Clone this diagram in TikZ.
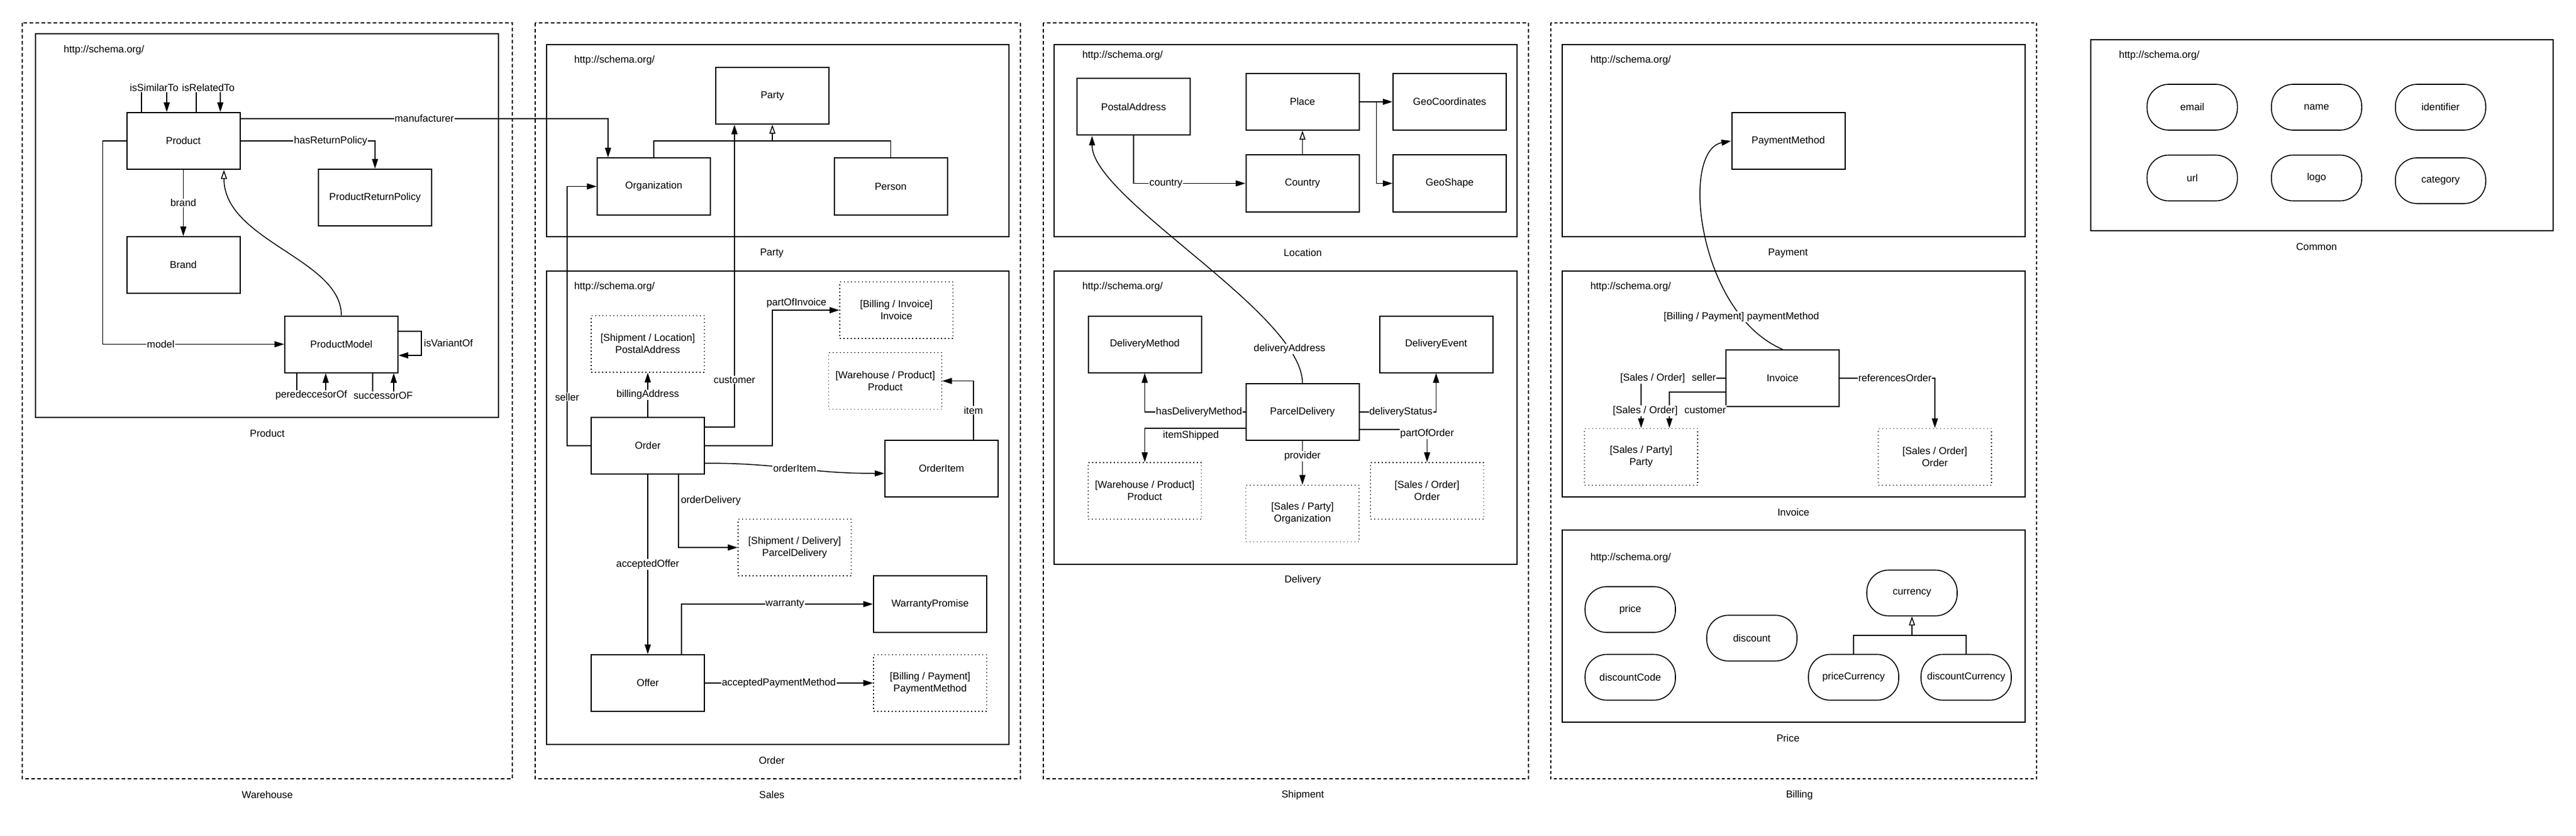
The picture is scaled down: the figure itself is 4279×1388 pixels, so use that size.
\documentclass[tikz,border=0pt]{standalone}
\usepackage{fontspec}
\setmainfont{Liberation Sans}
\usepackage{tikz}
\usetikzlibrary{arrows.meta}

\begin{document}
\begin{tikzpicture}[x=1pt,y=-1pt,line width=1.5pt,
    every node/.style={font=\fontsize{16.7}{20}\selectfont},
    cls/.style={draw,fill=white,line width=2pt,minimum width=188pt,minimum height=94pt},
    ext/.style={draw,fill=white,line width=1.6pt,dash pattern=on 1.5pt off 4.5pt,minimum width=188pt,minimum height=94pt,align=center},
    prop/.style={draw,fill=white,line width=1.6pt,rounded corners=36pt,minimum width=150pt,minimum height=76pt},
    pkg/.style={draw,line width=2pt},
    grp/.style={draw,line width=1.5pt,dash pattern=on 6pt off 4pt},
    uri/.style={anchor=west,inner sep=0pt},
    rel/.style={-{Triangle[length=16pt,width=10pt]}},
    isa/.style={-{Triangle[open,length=15pt,width=10pt]}},
    lbl/.style={fill=white,inner sep=1pt}]
    \useasboundingbox (0,0) rectangle (4279,1388);

    \draw[grp] (37,38) rectangle (851,1293);
    \draw[grp] (889,38) rectangle (1695,1293);
    \draw[grp] (1733,38) rectangle (2539,1293);
    \draw[grp,line width=1.3pt,dash pattern=on 5pt off 4pt] (2576,38) rectangle (3383,1293);
    \draw[pkg] (59,56) rectangle (828,693);
    \draw[pkg] (908,74) rectangle (1676,393);
    \draw[pkg] (908,450) rectangle (1676,1236);
    \draw[pkg] (1751,74) rectangle (2520,393);
    \draw[pkg] (1751,450) rectangle (2520,937);
    \draw[pkg] (2595,74) rectangle (3364,393);
    \draw[pkg] (2595,450) rectangle (3364,825);
    \draw[pkg] (2595,880) rectangle (3364,1199);
    \draw[pkg] (3473,66) rectangle (4241,383);

    \node (whlbl) at (444,1320) {Warehouse};
    \node (prodlbl) at (444,720) {Product};
    \node[uri] (produri) at (105,83) {http://schema.org/};
    \node[cls] (Product) at (304.5,234) {Product};
    \node[cls] (ProductReturnPolicy) at (623,328) {ProductReturnPolicy};
    \node[cls] (Brand) at (304.5,440) {Brand};
    \node[cls] (ProductModel) at (567,571.5) {ProductModel};

    \node (saleslbl) at (1282,1320) {Sales};
    \node (partylbl) at (1282,420) {Party};
    \node (orderlbl) at (1282,1263) {Order};
    \node[uri] (partyuri) at (953,100) {http://schema.org/};
    \node[uri] (orderuri) at (953,476) {http://schema.org/};
    \node[cls] (Party) at (1283,159) {Party};
    \node[cls] (Organization) at (1086,309.5) {Organization};
    \node[cls] (Person) at (1479.5,309.5) {Person};
    \coordinate (partyjoin) at (1283,234);
    \node[ext] (ordInvoice) at (1489,515) {[Billing / Invoice]\\Invoice};
    \node[ext] (ordPostalAddress) at (1076,571) {[Shipment / Location]\\PostalAddress};
    \node[ext] (ordProduct) at (1470.5,632.5) {[Warehouse / Product]\\Product};
    \node[cls] (Order) at (1076,740) {Order};
    \node[cls] (OrderItem) at (1564,778) {OrderItem};
    \node[ext] (ordParcelDelivery) at (1320,909) {[Shipment / Delivery]\\ParcelDelivery};
    \node[cls] (WarrantyPromise) at (1545,1003) {WarrantyPromise};
    \node[cls] (Offer) at (1076,1134) {Offer};
    \node[ext] (ordPaymentMethod) at (1545,1134) {[Billing / Payment]\\PaymentMethod};

    \node (shiplbl) at (2164,1320) {Shipment};
    \node (loclbl) at (2164,420) {Location};
    \node (dlvlbl) at (2164,963) {Delivery};
    \node[uri] (locuri) at (1797,92) {http://schema.org/};
    \node[uri] (dlvuri) at (1797,476) {http://schema.org/};
    \node[cls] (PostalAddress) at (1883,177.5) {PostalAddress};
    \node[cls] (Place) at (2163.5,169) {Place};
    \node[cls] (GeoCoordinates) at (2408,169) {GeoCoordinates};
    \node[cls] (Country) at (2163.5,304.5) {Country};
    \node[cls] (GeoShape) at (2408,304.5) {GeoShape};
    \node[cls] (DeliveryMethod) at (1901.5,571.5) {DeliveryMethod};
    \node[cls] (DeliveryEvent) at (2385.5,571.5) {DeliveryEvent};
    \node[cls] (ParcelDelivery) at (2163.5,684) {ParcelDelivery};
    \node[ext] (dlvProduct) at (1901.5,815) {[Warehouse / Product]\\Product};
    \node[ext] (dlvOrganization) at (2163.5,852.5) {[Sales / Party]\\Organization};
    \node[ext] (dlvOrder) at (2370.5,815) {[Sales / Order]\\Order};

    \node (billlbl) at (2989,1320) {Billing};
    \node (paylbl) at (2970,420) {Payment};
    \node (invlbl) at (2979,851) {Invoice};
    \node (pricelbl) at (2970,1226) {Price};
    \node[uri] (payuri) at (2641,100) {http://schema.org/};
    \node[uri] (invuri) at (2641,476) {http://schema.org/};
    \node[uri] (priceuri) at (2641,926) {http://schema.org/};
    \node[cls] (PaymentMethod) at (2970.5,234) {PaymentMethod};
    \node[cls] (Invoice) at (2961,628) {Invoice};
    \node[ext] (invParty) at (2726,758.5) {[Sales / Party]\\Party};
    \node[ext] (invOrder) at (3214,758.5) {[Sales / Order]\\Order};
    \node[prop] (price) at (2708,1012) {price};
    \node[prop] (discountCode) at (2708,1124.5) {discountCode};
    \node[prop] (discount) at (2910,1059.5) {discount};
    \node[prop] (currency) at (3176,984.5) {currency};
    \node[prop] (priceCurrency) at (3079,1124.5) {priceCurrency};
    \node[prop] (discountCurrency) at (3266,1124.5) {discountCurrency};
    \coordinate (curjoin) at (3176,1055);

    \node (comlbl) at (3848,410) {Common};
    \node[uri] (comuri) at (3519,92) {http://schema.org/};
    \node[prop] (email) at (3641.5,178) {email};
    \node[prop] (name) at (3848,178) {name};
    \node[prop] (identifier) at (4054,178) {identifier};
    \node[prop] (url) at (3641.5,295.5) {url};
    \node[prop] (logo) at (3848,295.5) {logo};
    \node[prop] (category) at (4054,300) {category};

    \draw[rel] ([xshift=-69.5pt]Product.north) -- ++(0,-40) -- node[lbl] {isSimilarTo} ++(42,0) -- ([xshift=-27.5pt]Product.north);
    \draw[rel] ([xshift=21.5pt]Product.north) -- ++(0,-40) -- node[lbl] {isRelatedTo} ++(40,0) -- ([xshift=61.5pt]Product.north);
    \draw[rel] ([yshift=37pt]Product.east) -| node[lbl,pos=0.25] {manufacturer} ([xshift=-76pt]Organization.north);
    \draw[rel] (Product.east) -| node[lbl,pos=0.335] {hasReturnPolicy} (ProductReturnPolicy.north);
    \draw[rel] (Product) -- node[lbl] {brand} (Brand);
    \draw[rel] (Product.west) -- ++(-39,0) |- node[lbl,pos=0.66] {model} (ProductModel.west);
    \draw[rel] ([yshift=21.5pt]ProductModel.east) -- ++(38,0) |- node[right,pos=0.25] {isVariantOf} ([yshift=-18.5pt]ProductModel.east);
    \draw[rel] ([xshift=-74pt]ProductModel.south) -- ++(0,37) -- node[lbl] {peredeccesorOf} ++(48,0) -- ([xshift=-26pt]ProductModel.south);
    \draw[rel] ([xshift=52pt]ProductModel.south) -- ++(0,37) -- node[lbl] {successorOF} ++(35,0) -- ([xshift=87pt]ProductModel.south);
    \draw[isa] (ProductModel.north) .. controls (567,430) and (372,400) .. ([xshift=67.5pt]Product.south);

    \draw (Organization.north) |- (partyjoin) -| (Person.north);
    \draw[isa] (partyjoin) -- (Party.south);
    \draw[rel] (Order.west) -- ++(-39,0) |- node[lbl,pos=0.094] {seller} (Organization.west);
    \draw[rel] ([yshift=31pt]Order.east) -| node[lbl,pos=0.578] {customer} ([xshift=-63pt]Party.south);
    \draw[rel] (Order) -- node[lbl] {billingAddress} (ordPostalAddress);
    \draw[rel] (Order.east) -- ++(112,0) |- node[above,pos=0.68] {partOfInvoice} (ordInvoice.west);
    \draw[rel] ([xshift=53pt]OrderItem.north) |- node[lbl,pos=0.25] {item} (ordProduct.east);
    \draw[rel] ([yshift=-29pt]Order.east) .. controls +(130,0) and +(-130,0) .. node[lbl] {orderItem} ([yshift=-8pt]OrderItem.west);
    \draw[rel] ([xshift=51pt]Order.south) |- node[right,pos=0.18] {orderDelivery} (ordParcelDelivery.west);
    \draw[rel] (Order) -- node[lbl] {acceptedOffer} (Offer);
    \draw[rel] ([xshift=56pt]Offer.north) |- node[lbl,pos=0.77] {warranty} (WarrantyPromise.west);
    \draw[rel] (Offer) -- node[lbl,pos=0.44] {acceptedPaymentMethod} (ordPaymentMethod);

    \draw[rel] (PostalAddress.south) |- node[lbl,pos=0.645] {country} (Country.west);
    \draw[isa] (Country) -- (Place);
    \draw[rel] (Place) -- (GeoCoordinates);
    \draw[rel] (Place.east) -- ++(28,0) |- (GeoShape.west);
    \draw[rel] (ParcelDelivery.west) -| node[lbl,pos=0.23] {hasDeliveryMethod} (DeliveryMethod.south);
    \draw[rel] (ParcelDelivery.east) -| node[lbl,pos=0.27] {deliveryStatus} (DeliveryEvent.south);
    \draw[rel] ([yshift=-27pt]ParcelDelivery.west) -| node[below,pos=0.27] {itemShipped} (dlvProduct.north);
    \draw[rel] ([yshift=-29pt]ParcelDelivery.east) -| node[lbl,pos=0.57] {partOfOrder} (dlvOrder.north);
    \draw[rel] (ParcelDelivery) -- node[lbl,pos=0.35] {provider} (dlvOrganization);
    \draw[rel] (ParcelDelivery.north) .. controls (2163,520) and (1814,330) .. node[lbl,pos=0.15] {deliveryAddress} ([xshift=-69pt]PostalAddress.south);

    \draw[rel] (Invoice.north) .. controls (2820,520) and (2790,250) .. node[lbl,pos=0.19] {[Billing / Payment] paymentMethod} (PaymentMethod.west);
    \draw[rel] (Invoice.west) -| node[lbl,pos=0.34] {[Sales / Order]\hspace{0.4em} seller} (invParty.north);
    \draw[rel] ([yshift=-23pt]Invoice.west) -| node[lbl,pos=0.76] {[Sales / Order]\hspace{0.4em} customer} ([xshift=47pt]invParty.north);
    \draw[rel] (Invoice.east) -| node[lbl,pos=0.29] {referencesOrder} (invOrder.north);
    \draw (priceCurrency.north) |- (curjoin) -| (discountCurrency.north);
    \draw[isa] (curjoin) -- (currency.south);
\end{tikzpicture}
\end{document}
